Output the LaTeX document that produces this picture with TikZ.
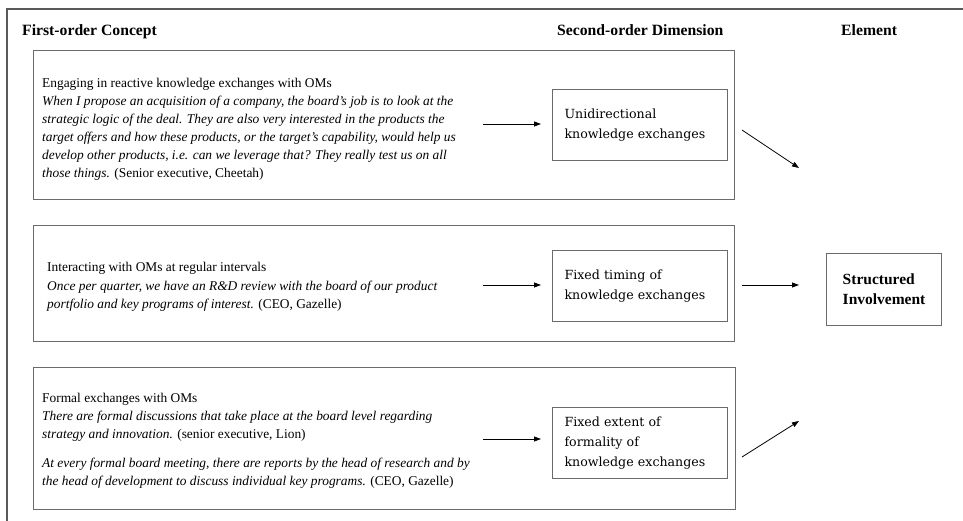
\documentclass[tikz,border=0pt]{standalone}
\usepackage{fontspec}
\setmainfont{Liberation Serif}
\newfontfamily\boxfont{DejaVu Serif}
\usetikzlibrary{arrows.meta}
\definecolor{framegray}{HTML}{5A5A5A}
\definecolor{boxgray}{HTML}{6A6A6A}
\begin{document}
\begin{tikzpicture}[x=1pt,y=-1pt,
  frame/.style={draw=framegray,line width=2pt},
  obox/.style={draw=boxgray,line width=1.1pt,anchor=north west,inner sep=0pt},
  ibox/.style={draw=boxgray,line width=1.1pt,anchor=north west,inner xsep=12pt,inner ysep=0pt,
     align=left,font=\boxfont\fontsize{12.6}{20}\selectfont},
  sbox/.style={draw=boxgray,line width=1.1pt,anchor=north west,inner sep=0pt,
     align=left,font=\bfseries\fontsize{15.5}{20}\selectfont},
  hdr/.style={anchor=base west,inner sep=0pt,font=\bfseries\fontsize{15.7}{18}\selectfont},
  qtext/.style={anchor=base west,inner sep=0pt,align=left,font=\fontsize{13.4}{18}\selectfont},
  arr/.style={draw=black,line width=0.8pt,-{Triangle[length=7pt,width=5pt]}}
]
\useasboundingbox (0,0) rectangle (963,521);
\fill[white] (0,0) rectangle (963,521);
\draw[frame] (7,521) -- (7,9) -- (963,9);

% headers
\node[hdr] (h1) at (22,36) {First-order Concept};
\node[hdr] (h2) at (557,36) {Second-order Dimension};
\node[hdr] (h3) at (841,36) {Element};

% outer boxes
\node[obox,minimum width=701pt,minimum height=149pt] (b1) at (33,50) {};
\node[obox,minimum width=701pt,minimum height=116pt] (b2) at (33,225) {};
\node[obox,minimum width=702pt,minimum height=142pt] (b3) at (33,367) {};

% quotes (anchored at the baseline of their last line)
\node[qtext] (t1) at (42,178) {Engaging in reactive knowledge exchanges with OMs\\
\textit{When I propose an acquisition of a company, the board’s job is to look at the}\\
\textit{strategic logic of the deal. They are also very interested in the products the}\\
\textit{target offers and how these products, or the target’s capability, would help us}\\
\textit{develop other products, i.e. can we leverage that? They really test us on all}\\
\textit{those things.} (Senior executive, Cheetah)};

\node[qtext] (t2) at (47,308) {Interacting with OMs at regular intervals\\
\textit{Once per quarter, we have an R\&D review with the board of our product}\\
\textit{portfolio and key programs of interest.} (CEO, Gazelle)};

\node[qtext] (t3) at (42,485) {Formal exchanges with OMs\\
\textit{There are formal discussions that take place at the board level regarding}\\
\textit{strategy and innovation.} (senior executive, Lion)\\[11pt]
\textit{At every formal board meeting, there are reports by the head of research and by}\\
\textit{the head of development to discuss individual key programs.} (CEO, Gazelle)};

% second-order boxes
\node[ibox,minimum width=175pt,minimum height=71pt,text width=151pt] (d1) at (552,89)
  {Unidirectional\\knowledge exchanges};
\node[ibox,minimum width=175pt,minimum height=71pt,text width=151pt] (d2) at (552,250)
  {Fixed timing of\\knowledge exchanges};
\node[ibox,minimum width=175pt,minimum height=71pt,text width=151pt] (d3) at (552,407)
  {Fixed extent of\\formality of\\knowledge exchanges};

% element box
\node[sbox,minimum width=115pt,minimum height=72pt] (si) at (826,253)
  {Structured\\Involvement};

% arrows text -> dimension
\coordinate (a1) at (483,124);
\coordinate (a2) at (483,285);
\coordinate (a3) at (483,439);
\draw[arr,shorten >=11pt] (a1) -- (a1 -| d1.west);
\draw[arr,shorten >=11pt] (a2) -- (a2 -| d2.west);
\draw[arr,shorten >=11pt] (a3) -- (a3 -| d3.west);

% arrows dimension -> element
\coordinate (e1s) at (742,130);
\coordinate (e1e) at (799,168);
\coordinate (e2s) at (742,285);
\coordinate (e3s) at (742,457);
\coordinate (e3e) at (799,421);
\draw[arr] (e1s) -- (e1e);
\draw[arr,shorten >=27pt] (e2s) -- (e2s -| si.west);
\draw[arr] (e3s) -- (e3e);
\end{tikzpicture}
\end{document}
